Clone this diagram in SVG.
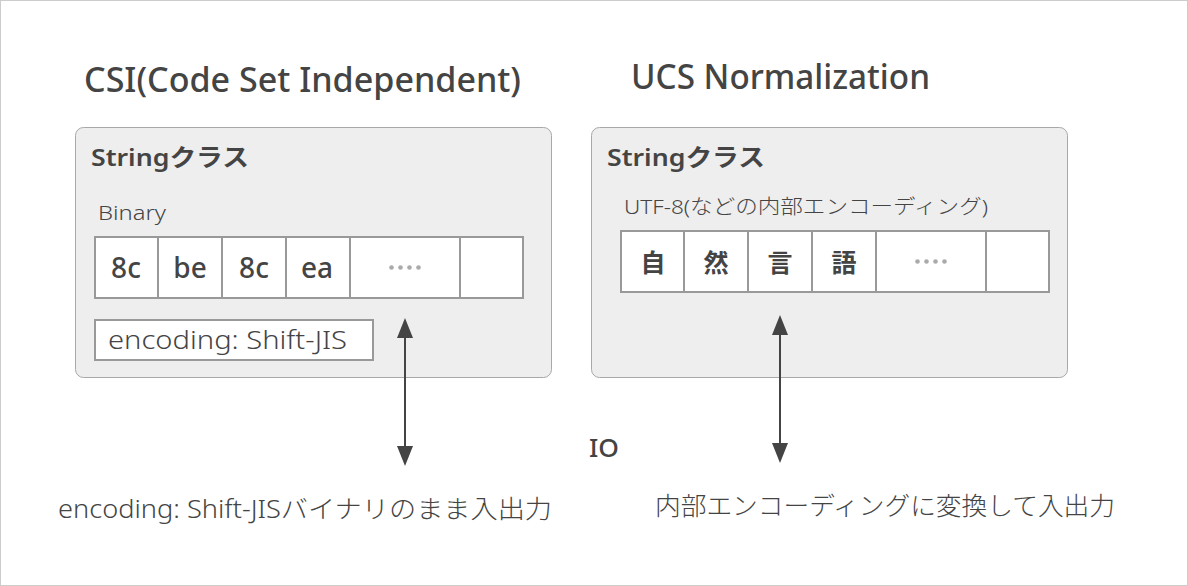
<svg xmlns="http://www.w3.org/2000/svg" width="1188" height="586" viewBox="0 0 1188 586">
<style>
text { font-family: "Noto Sans", "Noto Sans CJK JP", sans-serif; fill: #444; }
.title { font-size: 34px; font-weight: 500; }
.head { font-size: 24px; font-weight: 600; }
.label { font-size: 20px; font-weight: 300; }
.cell-t { font-size: 28px; font-weight: 500; text-anchor: middle; }
.kanji { font-size: 25px; font-weight: 600; text-anchor: middle; font-family: "Noto Sans CJK JP", sans-serif; }
.body { font-size: 25px; font-weight: 300; }
.io { font-size: 26px; font-weight: 500; }
.panel { fill: #eeeeee; stroke: #a8a8a8; stroke-width: 1; }
.cell { fill: #ffffff; stroke: #999999; stroke-width: 2; }
.dot { fill: #aaaaaa; }
.conn { stroke: #444; stroke-width: 2; fill: none; }
.ah { fill: #444; }
</style>
<rect x="0.5" y="0.5" width="1187" height="585" fill="#ffffff" stroke="#cccccc"/>

<text class="title" x="84" y="92" textLength="437" lengthAdjust="spacingAndGlyphs">CSI(Code Set Independent)</text>
<text class="title" x="631" y="89" textLength="299" lengthAdjust="spacingAndGlyphs">UCS Normalization</text>

<g id="csi-string">
<rect class="panel" x="75.5" y="127.5" width="476" height="250" rx="8"/>
<text class="head" x="91" y="166" textLength="158" lengthAdjust="spacingAndGlyphs">Stringクラス</text>
<text class="label" x="98" y="220" textLength="68" lengthAdjust="spacingAndGlyphs">Binary</text>
<g id="csi-cells">
<rect class="cell" x="95" y="237" width="428" height="61"/>
<line class="cell" x1="158" y1="237" x2="158" y2="298"/>
<line class="cell" x1="222" y1="237" x2="222" y2="298"/>
<line class="cell" x1="286" y1="237" x2="286" y2="298"/>
<line class="cell" x1="350" y1="237" x2="350" y2="298"/>
<line class="cell" x1="460" y1="237" x2="460" y2="298"/>
<text class="cell-t" x="126" y="278">8c</text>
<text class="cell-t" x="190" y="278">be</text>
<text class="cell-t" x="254" y="278">8c</text>
<text class="cell-t" x="317" y="278">ea</text>
<circle class="dot" cx="391.5" cy="267.5" r="2.3"/>
<circle class="dot" cx="400.5" cy="267.5" r="2.3"/>
<circle class="dot" cx="409.5" cy="267.5" r="2.3"/>
<circle class="dot" cx="418.5" cy="267.5" r="2.3"/>
</g>
<g id="csi-encoding">
<rect class="cell" x="95" y="320" width="278" height="40"/>
<text class="body" x="108" y="349" textLength="239" lengthAdjust="spacingAndGlyphs">encoding: Shift-JIS</text>
</g>
</g>

<g id="ucs-string">
<rect class="panel" x="591.5" y="127.5" width="476" height="250" rx="8"/>
<text class="head" x="607" y="166" textLength="158" lengthAdjust="spacingAndGlyphs">Stringクラス</text>
<text class="label" x="624" y="214" textLength="364" lengthAdjust="spacingAndGlyphs">UTF-8(などの内部エンコーディング)</text>
<g id="ucs-cells">
<rect class="cell" x="621" y="231" width="428" height="61"/>
<line class="cell" x1="684" y1="231" x2="684" y2="292"/>
<line class="cell" x1="748" y1="231" x2="748" y2="292"/>
<line class="cell" x1="812" y1="231" x2="812" y2="292"/>
<line class="cell" x1="876" y1="231" x2="876" y2="292"/>
<line class="cell" x1="986" y1="231" x2="986" y2="292"/>
<text class="kanji" x="653" y="272">自</text>
<text class="kanji" x="716" y="272">然</text>
<text class="kanji" x="780" y="272">言</text>
<text class="kanji" x="844" y="272">語</text>
<circle class="dot" cx="917.5" cy="261.5" r="2.3"/>
<circle class="dot" cx="926.5" cy="261.5" r="2.3"/>
<circle class="dot" cx="935.5" cy="261.5" r="2.3"/>
<circle class="dot" cx="944.5" cy="261.5" r="2.3"/>
</g>
</g>

<g id="io">
<text class="io" x="589" y="457" textLength="30" lengthAdjust="spacingAndGlyphs">IO</text>
</g>

<g id="connectors">
<line class="conn" x1="405" y1="334" x2="405" y2="450"/>
<polygon class="ah" points="405,318 397,338 413,338"/>
<polygon class="ah" points="405,466 397,446 413,446"/>
<line class="conn" x1="780" y1="331" x2="780" y2="447"/>
<polygon class="ah" points="780,315 772,335 788,335"/>
<polygon class="ah" points="780,463 772,443 788,443"/>
</g>

<g id="labels">
<text class="body" x="58" y="518" textLength="494" lengthAdjust="spacingAndGlyphs">encoding: Shift-JISバイナリのまま入出力</text>
<text class="body" x="655" y="515" textLength="460" lengthAdjust="spacingAndGlyphs">内部エンコーディングに変換して入出力</text>
</g>
</svg>
